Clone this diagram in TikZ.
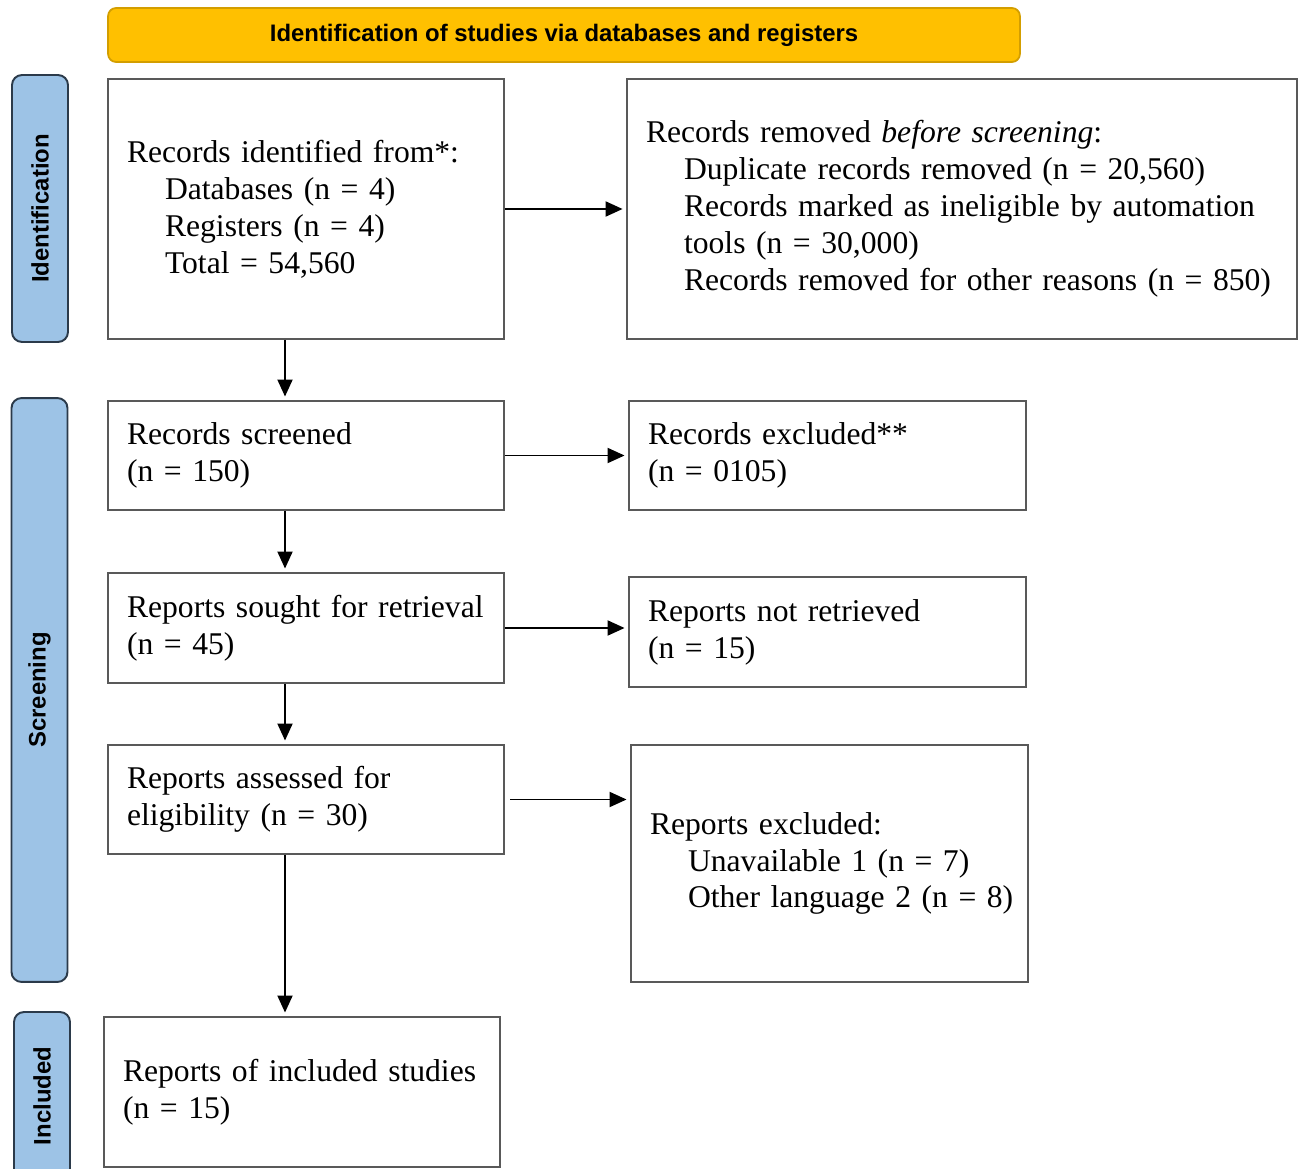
\documentclass[tikz,border=0pt]{standalone}
\usepackage{fontspec}
\setmainfont{Liberation Serif}
\newfontfamily\headfont{Liberation Sans}
\usetikzlibrary{arrows.meta}
\definecolor{headgold}{HTML}{FFC000}
\definecolor{headrim}{HTML}{D39E00}
\definecolor{phaseblue}{HTML}{9DC3E6}
\definecolor{phaserim}{HTML}{2B3A4A}
\definecolor{boxrim}{HTML}{595959}
\newcommand{\ind}{\hspace*{0.76cm}}
\tikzset{
    record/.style={
    rectangle,draw=boxrim,line width=1.1pt,inner xsep=0.38cm,align=left,
    font=\fontsize{18}{21}\selectfont
    },
    header/.style={
    rectangle,rounded corners=0.16cm,draw=headrim,fill=headgold,line width=1pt,
    font=\headfont\bfseries\fontsize{13.6}{16}\selectfont
    },
    phase/.style={
    rectangle,rounded corners=0.2cm,draw=phaserim,fill=phaseblue,line width=1.1pt,
    rotate=90,minimum height=1.12cm,
    font=\headfont\bfseries\fontsize{13.6}{16}\selectfont
    },
    flow/.style={
    -{Triangle[length=0.34cm,width=0.3cm]},line width=1.1pt,shorten >=2pt
    },
}
\begin{document}
\begin{tikzpicture}[x=0.02cm, y=-0.02cm]
   \useasboundingbox (0,0) rectangle (1298,1169);
   %header
   \node[header, minimum width=18.24cm, minimum height=1.08cm] (head) at (564,35)
     {Identification of studies via databases and registers};
   %phases
   \node[phase, minimum width=5.34cm] (phid) at (40,208.5) {Identification};
   \node[phase, minimum width=11.68cm] (phscr) at (39.5,690) {Screening};
   \node[phase, minimum width=3.36cm] (phinc) at (42,1096) {Included};
   %identified
   \node[record, minimum width=7.92cm, minimum height=5.2cm, text width=7.16cm] (ident) at (306,209)
     {Records identified from*:\\
      \ind Databases (n = 4)\\
      \ind Registers (n = 4)\\
      \ind Total = 54,560};
   %removed
   \node[record, minimum width=13.4cm, minimum height=5.2cm, text width=12.64cm] (removed) at (962,209)
     {Records removed \textit{before screening}:\\
      \ind Duplicate records removed (n = 20,560)\\
      \ind Records marked as ineligible by automation\\
      \ind tools (n = 30,000)\\
      \ind \mbox{Records removed for other reasons (n = 850)}};
   %screened
   \node[record, minimum width=7.92cm, minimum height=2.18cm, text width=7.16cm] (screened) at (306,455.5)
     {Records screened\\ (n = 150)};
   \node[record, minimum width=7.94cm, minimum height=2.18cm, text width=7.18cm] (excl) at (827.5,455.5)
     {Records excluded**\\ (n = 0105)};
   %sought
   \node[record, minimum width=7.92cm, minimum height=2.2cm, text width=7.16cm] (sought) at (306,628)
     {\mbox{Reports sought for retrieval}\\ (n = 45)};
   \node[record, minimum width=7.94cm, minimum height=2.2cm, text width=7.18cm] (notret) at (827.5,632)
     {Reports not retrieved\\ (n = 15)};
   %assessed
   \node[record, minimum width=7.92cm, minimum height=2.18cm, text width=7.16cm] (assessed) at (306,799.5)
     {Reports assessed for\\ eligibility (n = 30)};
   \node[record, minimum width=7.94cm, minimum height=4.74cm, text width=7.18cm] (repexcl) at (829.5,863.5)
     {Reports excluded:\\
      \ind Unavailable 1 (n = 7)\\
      \ind \mbox{Other language 2 (n = 8)}};
   %included
   \node[record, minimum width=7.92cm, minimum height=3cm, text width=7.16cm] (incl) at (302,1092)
     {Reports of included studies\\ (n = 15)};

   %arrows
   \draw[flow] (ident) -- (removed);
   \draw[flow] (screened) -- (excl);
   \draw[flow] (sought.east) -- (sought.east -| notret.west);
   \draw[flow, shorten <=3pt] (assessed.east) -- (assessed.east -| repexcl.west);
   \draw[flow] ([xshift=-0.42cm]ident.south) -- ([xshift=-0.42cm]screened.north);
   \draw[flow] ([xshift=-0.42cm]screened.south) -- ([xshift=-0.42cm]sought.north);
   \draw[flow] ([xshift=-0.42cm]sought.south) -- ([xshift=-0.42cm]assessed.north);
   \draw[flow] ([xshift=-0.42cm]assessed.south) -- ([xshift=-0.42cm]assessed.south |- incl.north);
\end{tikzpicture}
\end{document}
